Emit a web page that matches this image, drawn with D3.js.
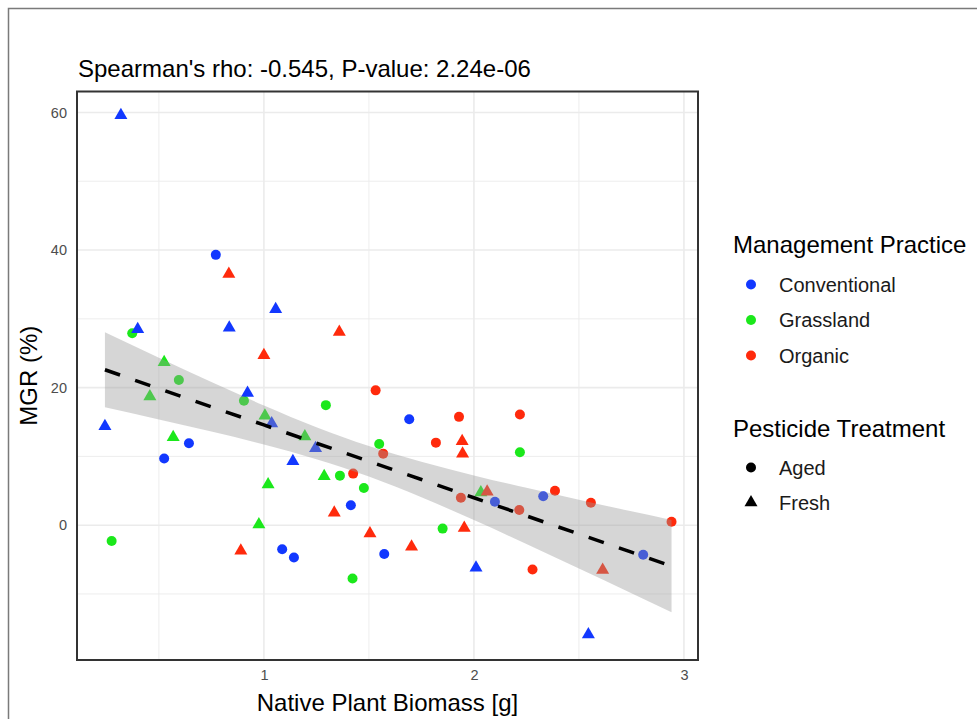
<!DOCTYPE html>
<html>
<head>
<meta charset="utf-8">
<script src="https://cdn.jsdelivr.net/npm/d3@7"></script>
<style>
  body { margin: 0; background: #fff; }
  svg { font-family: "Liberation Sans", Arial, sans-serif; }
</style>
</head>
<body>
<div id="chart"></div>
<script>
// values
const practices = ['Conventional', 'Grassland', 'Organic']
const treatments = ['Aged', 'Fresh']

const conventionalBiomass = [0.319, 0.771, 0.399, 0.835, 1.056, 0.922, 0.243, 1.037, 0.643, 0.525, 1.138,
  1.246, 1.692, 1.414, 1.087, 1.143, 1.573, 2.010, 2.100, 2.330, 2.806, 2.545]
const conventionalMGR = [59.6, 39.3, 28.5, 28.7, 31.4, 19.2, 14.4, 14.8, 11.9, 9.7, 9.3,
  11.2, 15.4, 2.9, -3.5, -4.7, -4.2, -6.2, 3.4, 4.2, -4.3, -15.9]
const conventionalTreatment = ['Fresh', 'Aged', 'Fresh', 'Fresh', 'Fresh', 'Fresh', 'Fresh', 'Fresh', 'Aged', 'Aged', 'Fresh',
  'Fresh', 'Aged', 'Aged', 'Aged', 'Aged', 'Aged', 'Fresh', 'Aged', 'Aged', 'Aged', 'Fresh']

const grasslandBiomass = [0.373, 0.525, 0.595, 0.457, 0.905, 1.005, 0.568, 0.275, 1.020, 0.976,
  1.195, 1.295, 1.287, 1.362, 1.476, 1.549, 1.422, 1.851, 2.033, 2.219]
const grasslandMGR = [27.9, 23.7, 21.1, 18.7, 18.1, 15.9, 12.8, -2.3, 5.9, 0.1,
  12.9, 17.45, 7.1, 7.2, 5.4, 11.8, -7.75, -0.5, 4.75, 10.6]
const grasslandTreatment = ['Aged', 'Fresh', 'Aged', 'Fresh', 'Aged', 'Fresh', 'Fresh', 'Aged', 'Fresh', 'Fresh',
  'Fresh', 'Aged', 'Fresh', 'Aged', 'Aged', 'Aged', 'Aged', 'Aged', 'Fresh', 'Aged']

const organicBiomass = [0.833, 1.359, 1.000, 1.532, 1.929, 1.819, 1.944, 1.946, 1.568, 1.425, 2.219, 1.335,
  1.505, 1.703, 1.954, 1.938, 2.063, 2.216, 2.386, 2.557, 2.941, 2.279, 2.613, 0.890]
const organicMGR = [36.5, 28.1, 24.7, 19.6, 15.75, 12.0, 12.2, 10.4, 10.4, 7.5, 16.1, 1.8,
  -1.2, -3.15, -0.4, 4.0, 4.85, 2.2, 5.0, 3.25, 0.5, -6.45, -6.5, -3.7]
const organicTreatment = ['Fresh', 'Fresh', 'Fresh', 'Aged', 'Aged', 'Aged', 'Fresh', 'Fresh', 'Aged', 'Aged', 'Aged', 'Fresh',
  'Fresh', 'Fresh', 'Fresh', 'Aged', 'Fresh', 'Aged', 'Aged', 'Aged', 'Aged', 'Aged', 'Fresh', 'Fresh']

// linear fit with its confidence band
const fitX = [0.243, 0.5, 0.75, 1.0, 1.25, 1.5, 1.75, 2.0, 2.25, 2.5, 2.75, 2.941]
const fitY = [22.6, 19.85, 17.21, 14.57, 11.92, 9.28, 6.64, 3.99, 1.35, -1.29, -3.93, -5.94]
const fitUpper = [28.05, 24.33, 20.81, 17.41, 14.25, 11.5, 9.22, 7.24, 5.43, 3.71, 2.02, 0.76]
const fitLower = [17.15, 15.37, 13.61, 11.73, 9.59, 7.06, 4.06, 0.74, -2.73, -6.29, -9.88, -12.64]

const xTicks = [1, 2, 3]
const xMinor = [0.5, 1.5, 2.5]
const yTicks = [0, 20, 40, 60]
const yMinor = [-10, 10, 30, 50]

const titleText = "Spearman's rho: -0.545, P-value: 2.24e-06"

const colours = { Conventional: '#1238ff', Grassland: '#1be81b', Organic: '#ff2a0c' }

const width = 977, height = 719
const panel = { left: 77, right: 698, top: 91.5, bottom: 660 }

const svg = d3.select('#chart').append('svg')
  .attr('width', width)
  .attr('height', height)

// outer frame of the figure
svg.append('rect')
  .attr('x', 8.5).attr('y', 8.5)
  .attr('width', 1000).attr('height', 1000)
  .attr('fill', 'none')
  .attr('stroke', '#7a7a7a')
  .attr('stroke-width', 1.5)

const x = d3.scaleLinear().domain([0.11, 3.067]).range([panel.left, panel.right])
const y = d3.scaleLinear().domain([-19.6, 63.05]).range([panel.bottom, panel.top])

const grid = svg.append('g')
grid.selectAll('.xminor').data(xMinor).join('line')
  .attr('x1', d => x(d)).attr('x2', d => x(d))
  .attr('y1', panel.top).attr('y2', panel.bottom)
  .attr('stroke', '#ebebeb').attr('stroke-width', 0.9)
grid.selectAll('.yminor').data(yMinor).join('line')
  .attr('y1', d => y(d)).attr('y2', d => y(d))
  .attr('x1', panel.left).attr('x2', panel.right)
  .attr('stroke', '#ebebeb').attr('stroke-width', 0.9)
grid.selectAll('.xmajor').data(xTicks).join('line')
  .attr('x1', d => x(d)).attr('x2', d => x(d))
  .attr('y1', panel.top).attr('y2', panel.bottom)
  .attr('stroke', '#ebebeb').attr('stroke-width', 1.6)
grid.selectAll('.ymajor').data(yTicks).join('line')
  .attr('y1', d => y(d)).attr('y2', d => y(d))
  .attr('x1', panel.left).attr('x2', panel.right)
  .attr('stroke', '#ebebeb').attr('stroke-width', 1.6)

// axes, tick labels only
const xAxis = svg.append('g')
  .attr('transform', `translate(0,${panel.bottom + 6})`)
  .call(d3.axisBottom(x).tickValues(xTicks).tickFormat(d3.format('d')).tickSize(0).tickPadding(4))
const yAxis = svg.append('g')
  .attr('transform', `translate(${panel.left - 6},0)`)
  .call(d3.axisLeft(y).tickValues(yTicks).tickFormat(d3.format('d')).tickSize(0).tickPadding(4))
for (const ax of [xAxis, yAxis]) {
  ax.select('.domain').remove()
  ax.selectAll('text')
    .attr('fill', '#4d4d4d')
    .style('font-size', '14.5px')
    .style('font-family', '"Liberation Sans", Arial, sans-serif')
}

function triangle(size) {
  const h = size * Math.sqrt(3) / 2
  return `M0,${-h * 2 / 3}L${size / 2},${h / 3}L${-size / 2},${h / 3}Z`
}

function drawGroup(name, xs, ys, ts) {
  const rows = xs.map((v, i) => ({ x: v, y: ys[i], t: ts[i] }))
  const g = svg.append('g')
  g.selectAll('circle').data(rows.filter(d => d.t === 'Aged')).join('circle')
    .attr('cx', d => x(d.x)).attr('cy', d => y(d.y))
    .attr('r', 5)
    .attr('fill', colours[name])
  g.selectAll('path').data(rows.filter(d => d.t === 'Fresh')).join('path')
    .attr('transform', d => `translate(${x(d.x)},${y(d.y)})`)
    .attr('d', triangle(13))
    .attr('fill', colours[name])
}

drawGroup('Grassland', grasslandBiomass, grasslandMGR, grasslandTreatment)
drawGroup('Organic', organicBiomass, organicMGR, organicTreatment)
drawGroup('Conventional', conventionalBiomass, conventionalMGR, conventionalTreatment)

// smooth: band then dashed line, over the points
const fit = fitX.map((v, i) => ({ x: v, y: fitY[i], lo: fitLower[i], hi: fitUpper[i] }))
svg.append('path')
  .datum(fit)
  .attr('fill', '#999999')
  .attr('fill-opacity', 0.4)
  .attr('d', d3.area().x(d => x(d.x)).y0(d => y(d.lo)).y1(d => y(d.hi)).curve(d3.curveMonotoneX))
svg.append('path')
  .datum(fit)
  .attr('fill', 'none')
  .attr('stroke', '#000')
  .attr('stroke-width', 3.5)
  .attr('stroke-dasharray', '16,16')
  .attr('d', d3.line().x(d => x(d.x)).y(d => y(d.y)))

// panel border
svg.append('rect')
  .attr('x', panel.left).attr('y', panel.top)
  .attr('width', panel.right - panel.left).attr('height', panel.bottom - panel.top)
  .attr('fill', 'none')
  .attr('stroke', '#333')
  .attr('stroke-width', 2)

// titles
svg.append('text')
  .attr('x', 78).attr('y', 77)
  .attr('font-size', 24)
  .attr('fill', '#000')
  .text(titleText)
svg.append('text')
  .attr('x', (panel.left + panel.right) / 2).attr('y', 711)
  .attr('text-anchor', 'middle')
  .attr('font-size', 24)
  .attr('fill', '#000')
  .text('Native Plant Biomass [g]')
svg.append('text')
  .attr('transform', `translate(37,${(panel.top + panel.bottom) / 2}) rotate(-90)`)
  .attr('text-anchor', 'middle')
  .attr('font-size', 24)
  .attr('fill', '#000')
  .text('MGR (%)')

// legends
const legend = svg.append('g').attr('transform', 'translate(733,0)')
legend.append('text')
  .attr('x', 0).attr('y', 253)
  .attr('font-size', 24)
  .text('Management Practice')
practices.forEach((p, i) => {
  const cy = 284.5 + i * 35.5
  legend.append('circle').attr('cx', 18).attr('cy', cy).attr('r', 5).attr('fill', colours[p])
  legend.append('text').attr('x', 46).attr('y', cy + 7).attr('font-size', 20).attr('fill', '#1a1a1a').text(p)
})
legend.append('text')
  .attr('x', 0).attr('y', 437)
  .attr('font-size', 24)
  .text('Pesticide Treatment')
treatments.forEach((t, i) => {
  const cy = 467.5 + i * 35
  if (t === 'Aged') {
    legend.append('circle').attr('cx', 18).attr('cy', cy).attr('r', 5).attr('fill', '#000')
  } else {
    legend.append('path').attr('transform', `translate(18,${cy})`).attr('d', triangle(13)).attr('fill', '#000')
  }
  legend.append('text').attr('x', 46).attr('y', cy + 7).attr('font-size', 20).attr('fill', '#1a1a1a').text(t)
})
</script>
</body>
</html>
